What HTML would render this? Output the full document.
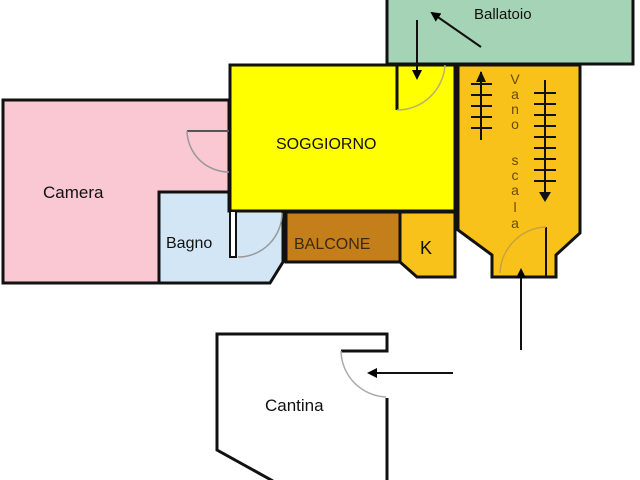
<!DOCTYPE html>
<html><head><meta charset="utf-8"><style>body{margin:0;background:#fff}svg{display:block}text{font-family:"Liberation Sans",sans-serif}</style></head><body>
<svg width="640" height="480" viewBox="0 0 640 480">
<defs><marker id="a" markerWidth="10" markerHeight="10" refX="8" refY="5" orient="auto" markerUnits="userSpaceOnUse"><path d="M0,0 L10,5 L0,10 z" fill="#000"/></marker></defs>
<rect x="387" y="-3" width="246" height="67" fill="#a5d3b5" stroke="#111" stroke-width="3"/>
<rect x="3" y="100" width="226" height="183" fill="#f9c8d2" stroke="#111" stroke-width="3"/>
<rect x="230" y="65" width="225" height="146" fill="#ffff00" stroke="#111" stroke-width="3"/>
<path d="M159,192 L229,192 L229,211 L283,211 L283,262 L270,283 L159,283 Z" fill="#d3e6f6" stroke="#111" stroke-width="3"/>
<rect x="230" y="211" width="6" height="46" fill="#fff" stroke="#111" stroke-width="2"/>
<rect x="286" y="212" width="114" height="50" fill="#c47f1a" stroke="#111" stroke-width="3"/>
<path d="M400,212 L455,212 L455,277 L417,277 L400,262 Z" fill="#f9c21a" stroke="#111" stroke-width="3"/>
<path d="M458,65 L580,65 L580,233 L556,255 L556,277 L492,277 L492,255 L458,230 Z" fill="#f9c21a" stroke="#111" stroke-width="3"/>
<path d="M397,65 L397,110" stroke="#111" stroke-width="3"/>
<path d="M397,110 A48,48 0 0 0 445,65" fill="none" stroke="#b8b070" stroke-width="1.5"/>
<path d="M187,131 L229,131" stroke="#555" stroke-width="2"/>
<path d="M187,131 A42,42 0 0 0 229,172" fill="none" stroke="#999" stroke-width="1.5"/>
<path d="M238,257 A44,44 0 0 0 282,213" fill="none" stroke="#999" stroke-width="1.5"/>
<path d="M546,227 L546,277" stroke="#111" stroke-width="2"/>
<path d="M546,227 A48,48 0 0 0 500,273" fill="none" stroke="#c9a040" stroke-width="1.5"/>
<g stroke="#111" stroke-width="2">
<line x1="481" y1="72" x2="481" y2="140"/>
<line x1="471" y1="84" x2="492" y2="84"/><line x1="471" y1="95" x2="492" y2="95"/><line x1="471" y1="106" x2="492" y2="106"/><line x1="471" y1="117" x2="492" y2="117"/><line x1="471" y1="128" x2="492" y2="128"/>
<line x1="545" y1="80" x2="545" y2="200"/>
<line x1="534" y1="93" x2="556" y2="93"/><line x1="534" y1="104" x2="556" y2="104"/><line x1="534" y1="115" x2="556" y2="115"/><line x1="534" y1="126" x2="556" y2="126"/><line x1="534" y1="137" x2="556" y2="137"/><line x1="534" y1="148" x2="556" y2="148"/><line x1="534" y1="159" x2="556" y2="159"/><line x1="534" y1="170" x2="556" y2="170"/><line x1="534" y1="181" x2="556" y2="181"/>
</g>
<path d="M476,82 L481,71 L486,82 Z" fill="#111"/>
<path d="M539,192 L545,202 L551,192 Z" fill="#111"/>
<g stroke="#111" stroke-width="2" fill="none">
<line x1="481" y1="47" x2="432" y2="13" marker-end="url(#a)"/>
<line x1="417" y1="20" x2="417" y2="78" marker-end="url(#a)"/>
<line x1="521" y1="350" x2="521" y2="270" marker-end="url(#a)"/>
<line x1="453" y1="373" x2="369" y2="373" marker-end="url(#a)"/>
</g>
<g stroke="#111" stroke-width="3" fill="none">
<path d="M341,351 L387,351 L387,334 L217,334 L217,450 L273,481"/>
<path d="M387,398 L387,481"/>
</g>
<path d="M341,351 A47,47 0 0 0 386,397" fill="none" stroke="#aaa" stroke-width="1.5"/>
<g fill="#111" font-size="17">
<text x="43" y="198">Camera</text>
<text x="166" y="248" font-size="16">Bagno</text>
<text x="276" y="149" font-size="16">SOGGIORNO</text>
<text x="294" y="249" font-size="16" fill="#3a2a10">BALCONE</text>
<text x="420" y="254" font-size="18">K</text>
<text x="474" y="19" font-size="15">Ballatoio</text>
<text x="265" y="411" font-size="17">Cantina</text>
</g>
<g fill="#6b4a00" font-size="14" text-anchor="middle">
<text x="515" y="84">V</text>
<text x="515" y="99">a</text><text x="515" y="114">n</text><text x="515" y="129">o</text>
<text x="515" y="165">s</text><text x="515" y="180">c</text><text x="515" y="195">a</text><text x="515" y="212">l</text><text x="515" y="228">a</text>
</g>
</svg>
</body></html>
